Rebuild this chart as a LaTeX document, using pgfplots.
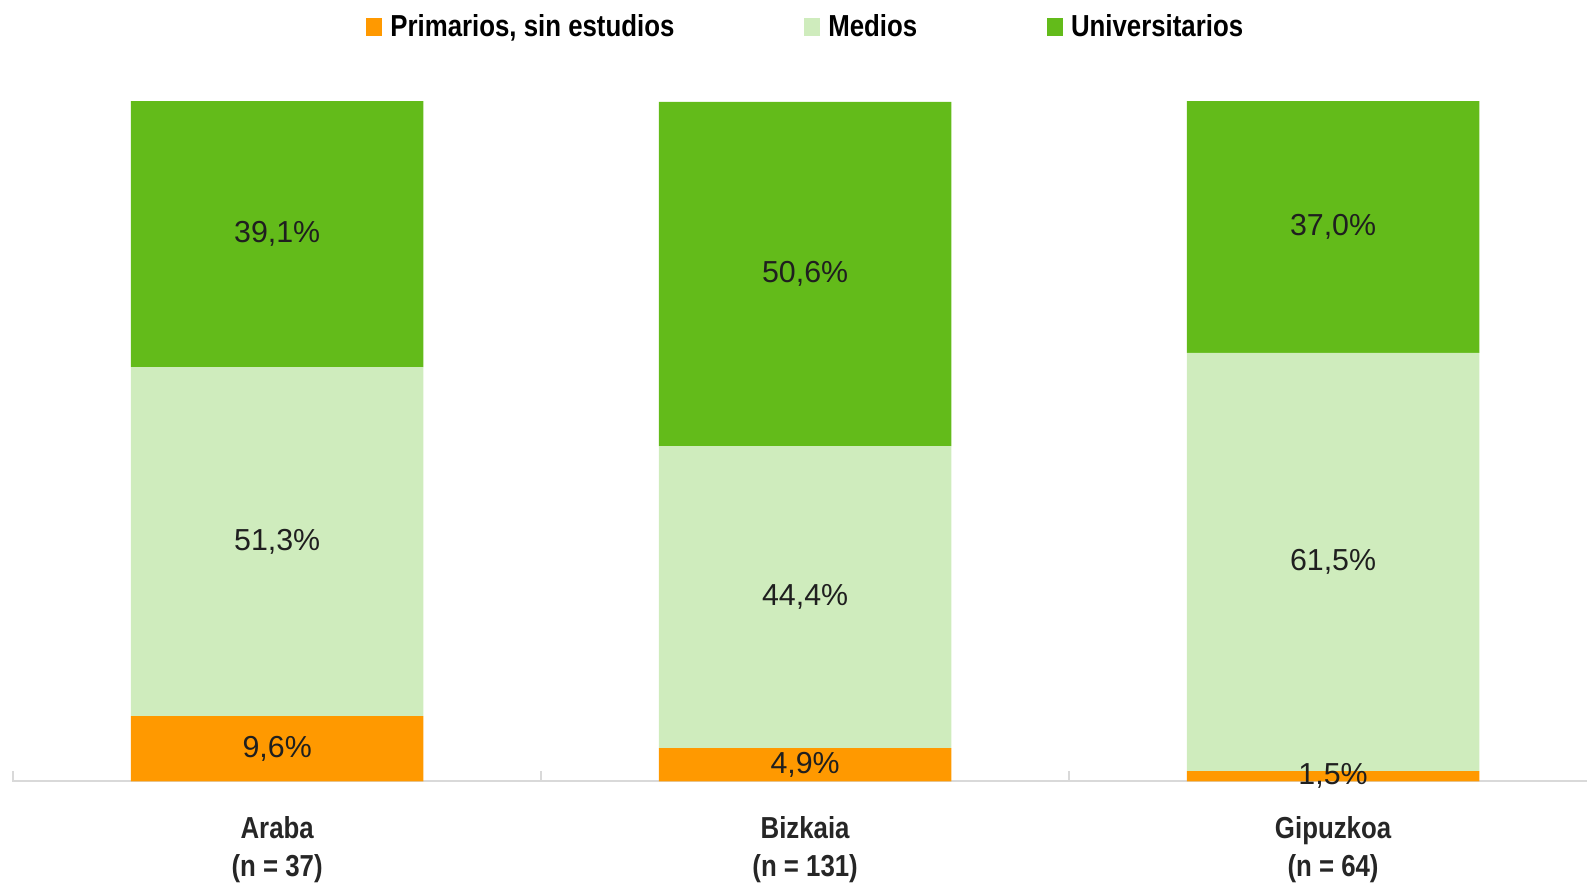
\documentclass[border=0pt]{standalone}
\usepackage{fontspec}
\setmainfont{Liberation Sans}
\newfontfamily\nb{Liberation Sans}[FakeStretch=0.85]
\usepackage{pgfplots}
\pgfplotsset{compat=1.18}
\usetikzlibrary{calc}
\definecolor{cOr}{RGB}{255,153,0}
\definecolor{cLg}{RGB}{207,236,189}
\definecolor{cDg}{RGB}{99,187,26}
\definecolor{cAx}{RGB}{217,217,217}
\begin{document}
\begin{tikzpicture}
\begin{axis}[
  name=ax,
  scale only axis, width=778pt, height=336pt,
  ybar stacked, bar width=144.5pt,
  xmin=-0.502, xmax=2.481, ymin=0, ymax=100,
  axis y line=none,
  axis x line*=bottom,
  x axis line style={cAx, line width=1pt},
  xtick={-0.5,0.5,1.5}, xticklabels={,,},
  major tick length=5pt, tick align=inside,
  x tick style={cAx, line width=1pt},
  extra x ticks={0,1,2},
  extra x tick labels={Araba\\(n = 37), Bizkaia\\(n = 131), Gipuzkoa\\(n = 64)},
  extra x tick style={major tick length=0pt},
  xticklabel style={align=center, font=\nb\bfseries\fontsize{15}{18.5}\selectfont, text=black!85, yshift=-14pt},
  point meta=rawy,
  nodes near coords={\pgfmathprintnumber[fixed,fixed zerofill,precision=1,use comma,assume math mode=true]{\pgfplotspointmeta}\%},
  every node near coord/.append style={font=\fontsize{15}{17}\selectfont, text=black!88, anchor=center},
  legend columns=3,
  legend style={at={(0.5045,1.1086)}, anchor=center, draw=none, fill=none, font=\nb\bfseries\fontsize{15}{17}\selectfont,
    /tikz/every odd column/.append style={column sep=2pt},
    /tikz/every even column/.append style={column sep=62pt}},
  legend image code/.code={\fill[#1] (0pt,-4.5pt) rectangle (8pt,4.5pt);},
]
\addplot[fill=cOr, draw=none] coordinates {(0,9.6) (1,4.9) (2,1.5)};
\addplot[fill=cLg, draw=none] coordinates {(0,51.3) (1,44.4) (2,61.5)};
\addplot[fill=cDg, draw=none] coordinates {(0,39.1) (1,50.6) (2,37.0)};
\legend{{Primarios, sin estudios},Medios,Universitarios}
\end{axis}
\pgfresetboundingbox
\path ($(ax.south west)+(-6pt,-50.5pt)$) rectangle ($(ax.north east)+(0pt,50pt)$);
\end{tikzpicture}
\end{document}
